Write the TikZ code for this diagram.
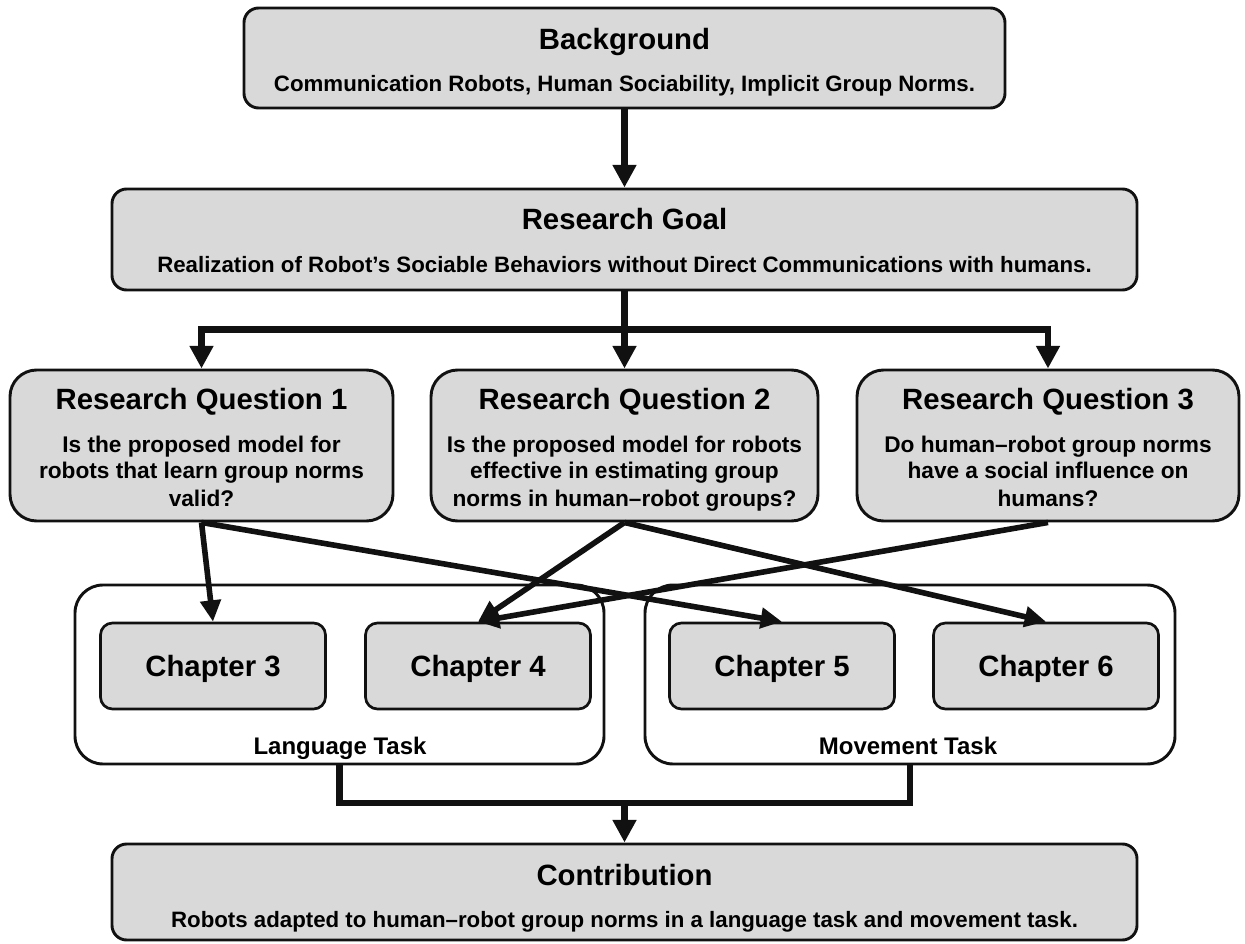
\documentclass[tikz,border=0pt]{standalone}
\usepackage{fontspec}
\setmainfont{Liberation Sans}
\usetikzlibrary{arrows.meta}
\definecolor{boxgray}{HTML}{D9D9D9}
\definecolor{ink}{HTML}{111111}
\begin{document}
\begin{tikzpicture}[x=0.75pt,y=-0.75pt,
  box/.style={draw=ink, fill=boxgray, line width=2.2pt, rounded corners=11pt, inner sep=0pt},
  qbox/.style={box, rounded corners=20pt},
  chap/.style={draw=ink, fill=boxgray, line width=2pt, rounded corners=9pt, inner sep=0pt, minimum width=168.75pt, minimum height=64.5pt},
  cont/.style={draw=ink, fill=white, line width=2.2pt, rounded corners=21pt, inner sep=0pt, minimum height=134.25pt},
  conn/.style={draw=ink, line width=4.8pt, -{Triangle[length=17pt,width=17pt]}},
  plain/.style={draw=ink, line width=4.8pt},
  cross/.style={draw=ink, line width=4.2pt, -{Triangle[length=16pt,width=15pt]}},
  ttl/.style={font=\fontsize{22}{26}\selectfont\bfseries, anchor=base, inner sep=0pt},
  bod/.style={font=\fontsize{17}{20}\selectfont\bfseries, anchor=base, inner sep=0pt},
  sub/.style={font=\fontsize{16.7}{20}\selectfont\bfseries, anchor=base, inner sep=0pt},
  tsk/.style={font=\fontsize{18}{21}\selectfont\bfseries, anchor=base, inner sep=0pt}
]
\useasboundingbox (0,0) rectangle (1245,944);

% boxes
\node[box, minimum width=570.75pt, minimum height=75pt] (bg) at (624.5,58) {};
\node[box, minimum width=768.75pt, minimum height=75.75pt] (goal) at (624.5,239.5) {};
\node[qbox, minimum width=287.25pt, minimum height=113.25pt] (rq1) at (201.5,445.5) {};
\node[qbox, minimum width=290.25pt, minimum height=113.25pt] (rq2) at (624.5,445.5) {};
\node[qbox, minimum width=286.5pt, minimum height=113.25pt] (rq3) at (1048,445.5) {};
\node[cont, minimum width=396.75pt] (lang) at (339.5,674.5) {};
\node[cont, minimum width=397.5pt] (move) at (910,674.5) {};
\node[chap] (ch3) at (213,666) {};
\node[chap] (ch4) at (478,666) {};
\node[chap] (ch5) at (782,666) {};
\node[chap] (ch6) at (1046,666) {};
\node[box, minimum width=768.75pt, minimum height=72pt] (contrib) at (624.5,892) {};

% texts
\node[ttl] (bgT) at (624.5,49.5) {Background};
\node[sub] (bgS) at (624.5,91.5) {Communication Robots, Human Sociability, Implicit Group Norms.};
\node[ttl] (goalT) at (624.5,229.5) {Research Goal};
\node[sub] (goalS) at (624.5,272.5) {Realization of Robot’s Sociable Behaviors without Direct Communications with humans.};

\node[ttl] (rq1T) at (201.5,409.5) {Research Question 1};
\node[bod] (rq1a) at (201.5,452) {Is the proposed model for};
\node[bod] (rq1b) at (201.5,479) {robots that learn group norms};
\node[bod] (rq1c) at (201.5,506) {valid?};

\node[ttl] (rq2T) at (624.5,409.5) {Research Question 2};
\node[bod] (rq2a) at (624.5,452) {Is the proposed model for robots};
\node[bod] (rq2b) at (624.5,479) {effective in estimating group};
\node[bod] (rq2c) at (624.5,506) {norms in human–robot groups?};

\node[ttl] (rq3T) at (1048,409.5) {Research Question 3};
\node[bod] (rq3a) at (1048,452) {Do human–robot group norms};
\node[bod] (rq3b) at (1048,479) {have a social influence on};
\node[bod] (rq3c) at (1048,506) {humans?};

\node[ttl] (ch3T) at (213,676) {Chapter 3};
\node[ttl] (ch4T) at (478,676) {Chapter 4};
\node[ttl] (ch5T) at (782,676) {Chapter 5};
\node[ttl] (ch6T) at (1046,676) {Chapter 6};
\node[tsk] (langT) at (340,754) {Language Task};
\node[tsk] (moveT) at (908,754) {Movement Task};

\node[ttl] (contribT) at (624.5,885) {Contribution};
\node[sub] (contribS) at (624.5,927.5) {Robots adapted to human–robot group norms in a language task and movement task.};

% tree connectors
\coordinate (j1) at (624.5,329.5);
\coordinate (j2) at (624.5,803);
\draw[conn] (bg.south) -- (goal.north);
\draw[conn] (goal.south) -- (rq2.north);
\draw[conn] (j1) -| (rq1.north);
\draw[conn] (j1) -| (rq3.north);

% crossing arrows
\draw[cross] (rq1.south) -- (ch3.north);
\draw[cross] (rq1.south) -- (ch5.north);
\draw[cross] (rq2.south) -- (ch4.north);
\draw[cross] (rq2.south) -- (ch6.north);
\draw[cross] (rq3.south) -- (ch4.north);

% bottom connectors
\draw[plain] (lang.south) |- (j2);
\draw[plain] (move.south) |- (j2);
\draw[conn] (j2) -- (contrib.north);
\end{tikzpicture}
\end{document}
